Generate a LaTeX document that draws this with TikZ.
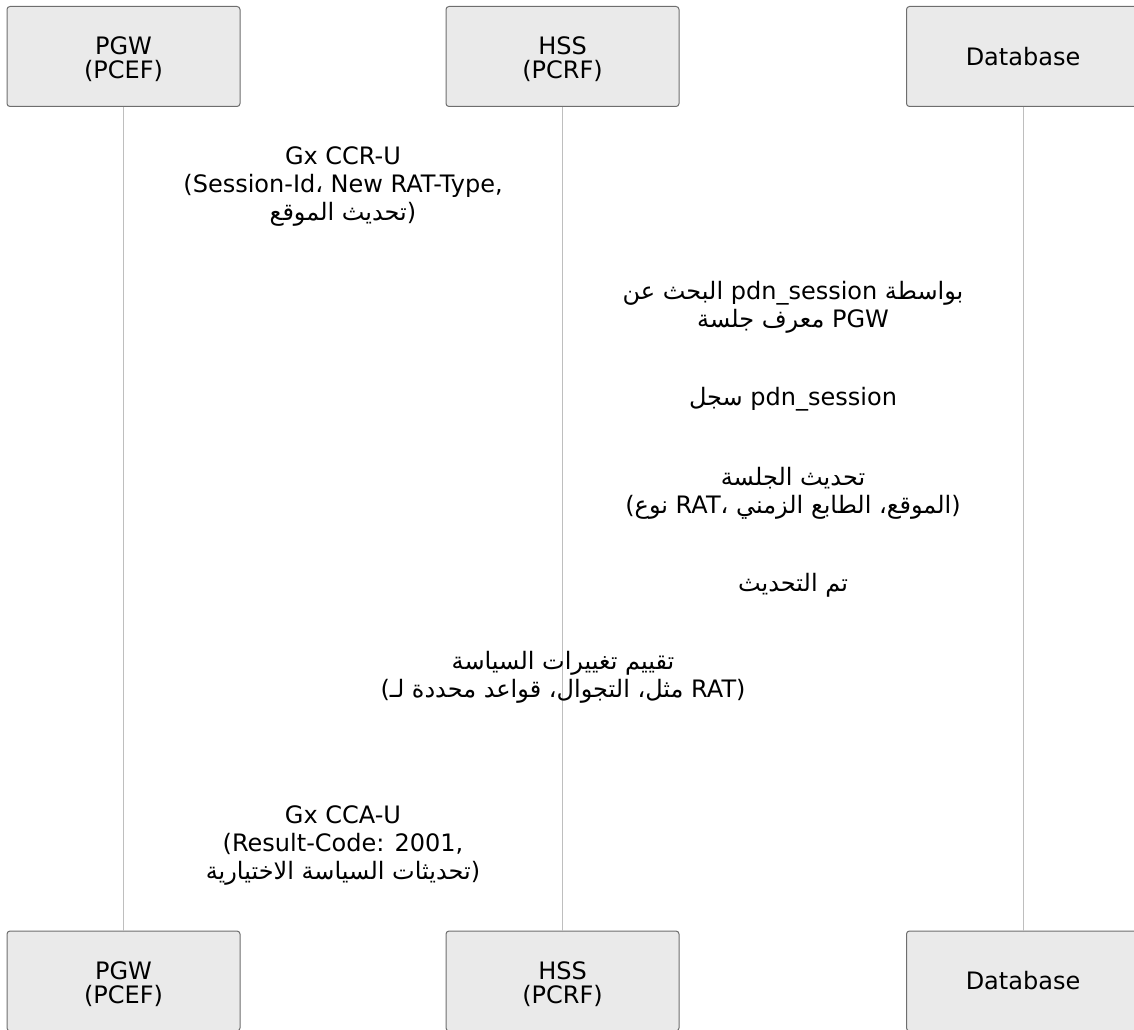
\documentclass[tikz,border=0pt]{standalone}
\usepackage{fontspec}
\setmainfont{DejaVu Sans}
\newfontfamily\arabicfont[Script=Arabic]{DejaVu Sans}
\TeXXeTstate=1
\newcommand\artxt[1]{{\arabicfont\beginR #1\endR}}
\definecolor{actorfill}{RGB}{234,234,234}
\definecolor{actordraw}{RGB}{110,110,110}
\definecolor{lifegray}{RGB}{190,190,190}

\begin{document}
\begin{tikzpicture}[x=0.75pt,y=0.75pt,yscale=-1,xscale=1,
  actor/.style={draw=actordraw,fill=actorfill,line width=0.75pt,rounded corners=2.25pt,minimum width=174.75pt,minimum height=75pt,inner sep=0pt,align=center,font=\fontsize{18}{18}\selectfont},
  actortwo/.style={actor,text height=33.5pt,text depth=0pt},
  lifeline/.style={draw=lifegray,line width=0.75pt},
  msg/.style={anchor=base,inner sep=0pt,align=center,font=\fontsize{18}{21}\selectfont}]
\useasboundingbox (0,0) rectangle (1134,1030);

%Shape: Actors top
\node [actortwo] (pgwT) at (123.5,56.5) {PGW\\(PCEF)};
\node [actortwo] (hssT) at (562.5,56.5) {HSS\\(PCRF)};
\node [actor] (dbT) at (1023,56.5) {Database};
%Shape: Actors bottom
\node [actortwo] (pgwB) at (123.5,981) {PGW\\(PCEF)};
\node [actortwo] (hssB) at (562.5,981) {HSS\\(PCRF)};
\node [actor] (dbB) at (1023,981) {Database};

%Straight Lines: lifelines
\draw [lifeline] (pgwT) -- (pgwB);
\draw [lifeline] (hssT) -- (hssB);
\draw [lifeline] (dbT) -- (dbB);

% Text Node
\node [msg] (ccr) at (343,221) {Gx CCR-U\\(Session-Id، New RAT-Type,\\\artxt{تحديث الموقع})};
% Text Node
\node [msg] (lookup) at (793,328) {\artxt{البحث عن} pdn\_session \artxt{بواسطة}\\\artxt{معرف جلسة} PGW};
% Text Node
\node [msg] (record) at (793,405) {\artxt{سجل} pdn\_session};
% Text Node
\node [msg] (update) at (793,513) {\artxt{تحديث الجلسة}\\(\artxt{نوع} RAT، \artxt{الموقع، الطابع الزمني})};
% Text Node
\node [msg] (updated) at (793,591) {\artxt{تم التحديث}};
% Text Node
\node [msg] (evalpol) at (563,697) {\artxt{تقييم تغييرات السياسة}\\(\artxt{مثل، التجوال، قواعد محددة لـ} RAT)};
% Text Node
\node [msg] (cca) at (343,879) {Gx CCA-U\\(Result-Code: 2001,\\\artxt{تحديثات السياسة الاختيارية})};

\end{tikzpicture}
\end{document}
